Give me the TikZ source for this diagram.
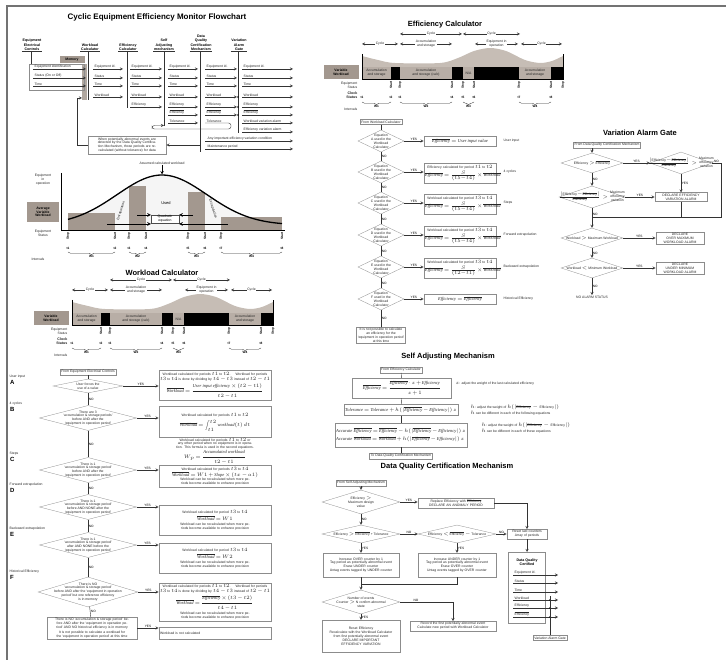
\documentclass[tikz,border=0pt]{standalone}
\usepackage{fontspec}
\usepackage{amsmath}
\setmainfont{Liberation Sans}
\newfontfamily\fmlfont{Liberation Serif}
\usetikzlibrary{shapes.geometric,decorations.pathreplacing,positioning}

\definecolor{barbrown}{RGB}{163,152,143}
\definecolor{wavegray}{RGB}{198,189,181}
\definecolor{blockgray}{RGB}{184,174,166}
\definecolor{linegray}{RGB}{140,140,140}
\newcommand{\barred}[1]{$\overline{\mbox{#1}}$}
\newcommand{\fv}[1]{\mbox{\fmlfont\itshape #1}}
\newcommand{\fml}[1]{{\fontsize{4.5}{5.3}\selectfont\mbox{$\thinmuskip=2mu\medmuskip=2mu\thickmuskip=3mu #1$}}}

\begin{document}
\begin{tikzpicture}[x=1pt, y=-1pt, >=stealth,
    heading/.style={font=\bfseries\fontsize{7.5}{8}\selectfont},
    hdr/.style={font=\bfseries\fontsize{3.6}{4.1}\selectfont, align=center, inner sep=0.6pt},
    tinytxt/.style={font=\fontsize{3.4}{3.9}\selectfont, align=center, inner sep=0.5pt, text=black!85},
    box/.style={tinytxt, draw=linegray, line width=0.3pt, inner sep=1.2pt},
    dia/.style={diamond, draw=linegray, line width=0.3pt, inner sep=0pt},
    yn/.style={font=\fontsize{3.2}{3.4}\selectfont, inner sep=0.6pt},
    wire/.style={line width=0.4pt, draw=black!80},
    ticklbl/.style={font=\bfseries\fontsize{3.2}{3.5}\selectfont, inner sep=0.4pt},
    rowletter/.style={font=\bfseries\fontsize{6}{6}\selectfont, inner sep=0pt},
    graybox/.style={fill=barbrown, font=\bfseries\fontsize{3.4}{3.8}\selectfont, align=center, inner sep=0.5pt}
  ]
  \useasboundingbox (0,0) rectangle (726,660);
  \draw[black!55, line width=1.6pt] (7,660) -- (7,6) -- (726,6);

  % monitor flowchart
  \node[heading, font=\bfseries\fontsize{8}{9}\selectfont] (monttl) at (157,17) {Cyclic Equipment Efficiency Monitor Flowchart};

  \node[hdr, anchor=south] (hEEC) at (32,51) {Equipment\\Electrical\\Controls};
  \node[hdr, anchor=south] (hWC) at (90,51) {Workload\\Calculator};
  \node[hdr, anchor=south] (hEC) at (128,51) {Efficiency\\Calculator};
  \node[hdr, anchor=south] (hSAM) at (164,51) {Self\\Adjusting\\mechanism};
  \node[hdr, anchor=south] (hDQC) at (201,51) {Data\\Quality\\Certification\\Mechanism};
  \node[hdr, anchor=south] (hVAG) at (239,51) {Variation\\Alarm\\Gate};
  \foreach \h in {hEEC,hWC,hEC,hSAM,hDQC,hVAG}
    \draw[wire] (\h.south west) -- (\h.south east);

  \draw[wire, line width=0.7pt] (31,51) -- (31,64);
  \draw[wire, line width=0.7pt] (88,51) -- (88,100);
  \draw[wire, line width=0.7pt] (127,51) -- (127,108);
  \draw[wire, line width=0.7pt] (164,51) -- (164,126);
  \draw[wire, line width=0.7pt] (200,51) -- (200,152);
  \draw[wire, line width=0.7pt] (238,51) -- (238,133);

  \node[graybox, minimum width=25pt, minimum height=7pt] (mem) at (72,60) {Memory};
  \fill[barbrown!85] (82,64) rectangle (87,100);

  \draw[linegray, line width=0.3pt] (29,64) rectangle (84,90);
  \foreach \y/\t [count=\i] in {69/Equipment identification, 78/Status (On or Off), 86/Time} {
    \draw[wire, ->] (33,\y) -- (86,\y);
    \node[tinytxt, anchor=south west] (eec\i) at (34,\y) {\t};
  }
  \foreach \xa/\xb/\n in {93/123/4, 130/162/5, 168/198/7, 205/237/6, 242/293/6} {
    \foreach \y/\t [count=\i] in {69/Equipment id., 78/Status, 86/Time, 97/Workload, 107/Efficiency, 115/\barred{Efficiency}, 123/Tolerance} {
      \ifnum\i>\n\relax\else
        \draw[wire, ->] (\xa,\y) -- (\xb,\y);
        \node[tinytxt, anchor=south west] at (\xa+1,\y) {\t};
      \fi
    }
  }
  \foreach \y/\t [count=\i] in {123/Workload variation alarm, 132/Efficiency variation alarm} {
    \draw[wire, ->] (242,\y) -- (293,\y);
    \node[tinytxt, anchor=south west] (vag\i) at (243,\y) {\t};
  }
  \foreach \y/\t [count=\i] in {141/Any important efficiency variation condition, 149/Maintenance period} {
    \draw[wire, ->] (205,\y) -- (293,\y);
    \node[tinytxt, anchor=south west] (dqx\i) at (207,\y) {\t};
  }
  \node[tinytxt, anchor=south west] (dqtol) at (206,123) {Tolerance};
  \draw[wire, ->, rounded corners=2.5pt] (205,123) -- (231,123) -- (231,129) -- (152,129) -- (152,125.5) -- (164,125.5);
  \foreach \y in {97,107,115} \fill (238,\y) circle (0.9pt);

  \node[box, text width=76pt, minimum height=18pt] (recalc) at (127,145) {When potentially abnormal events are detected by the Data Quality Certification Mechanism, those periods are recalculated (without tolerance) for data};
  \coordinate (dqcfb) at (200,145);
  \coordinate (memin) at (82,98);
  \draw[wire, ->] (dqcfb) -- (recalc);
  \draw[wire, ->] (recalc.west) -- (77,145) -- (77,98) -- (memin);

  % assumed workload graph
  \node[tinytxt] (assumed) at (162,163) {Assumed calculated workload};
  \fill[black!4] plot[domain=68:282, samples=60, smooth] (\x,{225-50*exp(-((\x-162)^2)/4050)}) -- (282,230) -- (68,230) -- cycle;
  \foreach \a/\b/\t in {68/115/213, 129/146/186, 188/205/192, 221/282/217}
    \fill[barbrown] (\a,\t) rectangle (\b,230);
  \draw[line width=1.3pt] plot[domain=68:282, samples=60, smooth] (\x,{225-50*exp(-((\x-162)^2)/4050)});
  \draw[line width=0.8pt] (61,173) -- (61,230) -- (285,230);
  \draw[->, line width=0.6pt] (assumed) -- (162,174.5);

  \node[tinytxt] (eqop) at (43,180) {Equipment\\in\\operation};
  \node[graybox, minimum width=32pt, minimum height=20pt] (avgwl) at (43,212) {Average\\Variable\\Workload};
  \node[tinytxt] (eqst) at (43,233) {Equipment\\Status};
  \node[font=\fontsize{4}{4.5}\selectfont] (used) at (166,203) {Used};
  \node[draw=black!70, line width=0.3pt, fill=white, font=\fontsize{3.4}{3.8}\selectfont, align=center, inner sep=0.8pt, minimum width=28pt] (quad) at (165,219) {Quadratic\\equation};
  \draw[->, line width=0.7pt] (137,215) -- (151,215);
  \draw[->, line width=0.7pt] (107,224) -- (151,224);
  \draw[->, line width=0.7pt] (193,215) -- (179,215);
  \draw[->, line width=0.7pt] (228,224) -- (179,224);
  \node[tinytxt, rotate=72] (extl) at (121,211) {Extrapolation};
  \node[tinytxt, rotate=-72] (extr) at (213,209) {Extrapolation};

  \foreach \x/\s [count=\i] in {68/Stop,115/Start,129/Stop,146/Start,188/Stop,205/Start,221/Stop,282/Start} {
    \node[ticklbl, rotate=90, anchor=east] (gs\i) at (\x,232) {\s};
    \node[ticklbl] (gt\i) at (\x,248) {t\i};
  }
  \node[tinytxt] (gint) at (38,259) {Intervals};
  \foreach \a/\b/\w in {68/115/1, 129/146/2, 188/205/3, 221/282/4}
    \draw[wire, decorate, decoration={brace, mirror, amplitude=2.5pt}] (\a,252) -- (\b,252) node[ticklbl, midway, below=2.5pt] {W\w};

  \node[heading] (wcttl) at (162,273) {Workload Calculator};
  \node[heading] (ecttl) at (445,25) {Efficiency Calculator};

  % same cycle timeline for both calculators
  \foreach \sx/\sy in {0/0, 290/-246} {
    \begin{scope}[shift={(\sx,\sy)}]
      \fill[wavegray] (72,313) -- plot[smooth] coordinates {(72,302) (88,306) (105,309) (150,309) (168,304) (184,297) (200,294) (216,297) (235,306) (250,309) (262,307) (273,302)} -- (273,313) -- cycle;
      \foreach \a/\b in {72/101, 110/162, 173/184, 229/261}
        \fill[blockgray] (\a,313) rectangle (\b,325);
      \foreach \a/\b in {101/110, 162/173, 184/229, 261/273}
        \fill[black] (\a,313) rectangle (\b,325);
      \draw[line width=0.8pt] (72,300) -- (72,325) -- (273,325) -- (273,300);
      \node[tinytxt] (acc1) at (86.5,319) {Accumulation\\and storage};
      \node[tinytxt] (acc2) at (136,319) {Accumulation\\and storage (calc)};
      \node[tinytxt] (acc3) at (178.5,319) {N/A};
      \node[tinytxt] (acc4) at (245,319) {Accumulation\\and storage};

      \draw[wire, <->] (110,280) -- (172,280) node[tinytxt, midway, fill=white] (cyc1) {Cycle};
      \draw[wire, <->] (173,280) -- (230,280) node[tinytxt, midway, fill=white] (cyc2) {Cycle};
      \draw[wire, <->] (72,290) -- (108,290) node[tinytxt, midway, fill=white] (cyc3) {Cycle};
      \draw[wire, <->] (110,290) -- (162,290) node[tinytxt, midway, fill=white] (cycacc) {Accumulation\\and storage};
      \draw[wire, <->] (185,290) -- (228,290) node[tinytxt, midway, fill=white] (cycop) {Equipment in\\operation};
      \draw[wire, <->] (231,290) -- (272,290) node[tinytxt, midway, fill=white] (cyc4) {Cycle};

      \node[graybox, minimum width=35pt, minimum height=14pt] (varwl) at (51,318) {Variable\\Workload};
      \node[tinytxt, anchor=east, align=right] (eqs) at (68,331) {Equipment\\Status};
      \node[tinytxt, anchor=east, align=right, font=\bfseries\fontsize{3.6}{3.8}\selectfont] (clk) at (68,341) {Clock\\Status};
      \node[tinytxt, anchor=east] (intv) at (68,355) {Intervals};
      \foreach \x/\s in {101/Start,110/Stop,162/Start,173/Stop,184/Start,229/Stop,261/Start,273/Stop}
        \node[ticklbl, rotate=90, anchor=east] at (\x,327) {\s};
      \foreach \x/\t in {72/1,101/2,110/3,162/4,173/5,184/6,229/7,261/8}
        \node[ticklbl] at (\x,343) {t\t};
      \foreach \a/\b/\w in {72/101/1, 110/162/2, 173/184/3, 229/261/4}
        \draw[wire, decorate, decoration={brace, mirror, amplitude=2.5pt}] (\a,348) -- (\b,348) node[ticklbl, midway, below=2.5pt] {W\w};
    \end{scope}
  }

  % workload calculator decisions
  \node[box] (wfrom) at (88,372) {From Equipment Electrical Controls};
  \node[dia, minimum width=70pt, minimum height=14pt] (wA) at (88,386) {};
  \node[tinytxt] (wAt) at (wA) {User forces the\\use of a value};
  \node[dia, minimum width=97pt, minimum height=25pt] (wB) at (88,418) {};
  \node[tinytxt] (wBt) at (wB) {There are 3\\`accumulation \& storage periods'\\before AND after the\\`equipment in operation period'};
  \node[dia, minimum width=97pt, minimum height=25pt] (wC) at (88,470) {};
  \node[tinytxt] (wCt) at (wC) {There is 1\\`accumulation \& storage period'\\before AND after the\\`equipment in operation period'};
  \node[dia, minimum width=97pt, minimum height=25pt] (wD) at (88,507) {};
  \node[tinytxt] (wDt) at (wD) {There is 1\\`accumulation \& storage period'\\before AND NONE after the\\`equipment in operation period'};
  \node[dia, minimum width=97pt, minimum height=25pt] (wE) at (88,545) {};
  \node[tinytxt] (wEt) at (wE) {There is 1\\`accumulation \& storage period'\\after AND NONE before the\\`equipment in operation period'};
  \node[dia, minimum width=100pt, minimum height=30pt] (wF) at (88,592) {};
  \node[tinytxt] (wFt) at (wF) {There is NO\\`accumulation \& storage period'\\before AND after the `equipment in operation\\period' but one reference efficiency\\is in memory};
  \node[box, text width=88pt] (wnot) at (92,628) {There is NO `accumulation \& storage period' before AND after the `equipment in operation period' AND NO historical efficiency is in memory\\[1pt]It is not possible to calculate a workload for the `equipment in operation period' at this time};

  \foreach \y/\l/\t [count=\i] in {379/A/User input, 406/B/4 cycles, 456/C/Steps, 487/D/Forward extrapolation, 531/E/Backward extrapolation, 574/F/Historical Efficiency} {
    \node[tinytxt, anchor=south west] (wcase\i) at (9,\y) {\t};
    \node[rowletter, anchor=north west] (wlet\i) at (10,\y+1) {\l};
  }

  \node[box, text width=110pt, minimum height=30pt] (bA) at (215,385) {Workload calculated for periods $t1$ to $t2$. \quad Workload for periods $t3$ to $t4$ is done by dividing by $t4-t3$ instead of $t2-t1$\\[1.5pt]\fml{\overline{\fv{Workload}}=\dfrac{\fv{User input efficiency}\times(t2-t1)}{t2-t1}}};
  \node[box, text width=110pt, minimum height=31pt] (bB) at (215,422) {Workload calculated for periods $t1$ to $t2$\\[2pt]\fml{\overline{\fv{Workload}}=\displaystyle\int_{t1}^{t2}\fv{workload}(t)\,dt}};
  \node[tinytxt, text width=110pt] (bBnote) at (215,451) {Workload calculated for periods $t1$ to $t2$ or any other period when no equipment is in operation. This formula is used in the second equations.\\\fml{W_p=\dfrac{\fv{Accumulated workload}}{t2-t1}}};
  \node[box, text width=110pt, minimum height=22pt] (bC) at (215,476) {Workload calculated for periods $t3$ to $t4$\\\fml{\overline{\fv{Workload}}=W1+\fv{Slope}\times(tx-a1)}\\Workload can be recalculated when more periods become available to enhance precision};
  \node[box, text width=110pt, minimum height=30pt] (bD) at (215,520) {Workload calculated for period $t3$ to $t4$\\[1pt]\fml{\overline{\fv{Workload}}=W1}\\[1pt]Workload can be recalculated when more periods become available to enhance precision};
  \node[box, text width=110pt, minimum height=30pt] (bE) at (215,558) {Workload calculated for period $t3$ to $t4$\\[1pt]\fml{\overline{\fv{Workload}}=W2}\\[1pt]Workload can be recalculated when more periods become available to enhance precision};
  \node[box, text width=110pt, minimum height=38pt] (bF) at (215,602) {Workload calculated for periods $t1$ to $t2$. \quad Workload for periods $t3$ to $t4$ is done by dividing by $t4-t3$ instead of $t2-t1$\\[1pt]\fml{\overline{\fv{Workload}}=\dfrac{\overline{\fv{Efficiency}}\times(t3-t2)}{t4-t1}}\\[1pt]Workload can be recalculated when more periods become available to enhance precision};
  \node[box, text width=110pt, align=left, minimum height=12pt] (bNone) at (215,633) {Workload is not calculated};

  \draw[wire] (wfrom) -- (wA);
  \draw[wire] (wA) -- (wB) node[yn, midway, right] {NO};
  \draw[wire] (wB) -- (wC) node[yn, midway, right] {NO};
  \draw[wire] (wC) -- (wD) node[yn, midway, right] {NO};
  \draw[wire] (wD) -- (wE) node[yn, midway, right] {NO};
  \draw[wire] (wE) -- (wF) node[yn, midway, right] {NO};
  \draw[wire] (wF) -- (wnot) node[yn, midway, right] {NO};
  \foreach \q in {A,B,C,D,E,F}
    \draw[wire, ->] (w\q) -- (w\q -| b\q.west) node[yn, midway, above] {YES};
  \draw[wire, ->] (wnot) -- (wnot -| bNone.west) node[yn, midway, above] {YES};

  % efficiency calculator decisions
  \node[box] (efrom) at (381,122) {From Workload Calculator};
  \foreach \q/\y/\lbl in {A/141/User input, B/172/4 cycles, C/203/Steps, D/235/Forward extrapolation, E/267/Backward extrapolation, F/299/Historical Efficiency} {
    \node[dia, minimum width=46pt, minimum height=22pt] (e\q) at (381,\y) {};
    \node[tinytxt] (e\q t) at (e\q) {Equation\\\q{} used in the\\Workload\\Calculator};
    \node[tinytxt, anchor=west] (el\q) at (503,\y) {\lbl};
  }
  \node[box, text width=70pt, minimum height=10pt] (ebA) at (460,141) {\fml{\overline{\fv{Efficiency}}=\fv{User input value}}};
  \node[box, text width=70pt, minimum height=20pt] (ebB) at (460,173) {Efficiency calculated for period $t1$ to $t2$\\[1pt]\fml{\overline{\fv{Efficiency}}=\frac{S}{(t5-t4)}\times\overline{\fv{Workload}}}};
  \node[box, text width=70pt, minimum height=20pt] (ebC) at (460,204) {Workload calculated for period $t3$ to $t4$\\[1pt]\fml{\overline{\fv{Efficiency}}=\frac{S}{(t5-t4)}\times\overline{\fv{Workload}}}};
  \node[box, text width=70pt, minimum height=20pt] (ebD) at (460,236) {Workload calculated for period $t3$ to $t4$\\[1pt]\fml{\overline{\fv{Efficiency}}=\frac{S}{(t5-t4)}\times\overline{\fv{Workload}}}};
  \node[box, text width=70pt, minimum height=20pt] (ebE) at (460,268) {Workload calculated for period $t3$ to $t4$\\[1pt]\fml{\overline{\fv{Efficiency}}=\frac{S}{(t2-t1)}\times\overline{\fv{Workload}}}};
  \node[box, text width=70pt, minimum height=10pt] (ebF) at (460,299) {\fml{\fv{Efficiency}=\overline{\fv{Efficiency}}}};
  \node[box] (enot) at (381,335) {It is not possible to calculate\\an efficiency for the\\`equipment in operation period'\\at this time};

  \draw[wire] (efrom) -- (eA);
  \foreach \a/\b in {A/B, B/C, C/D, D/E, E/F}
    \draw[wire] (e\a) -- (e\b) node[yn, midway, right] {NO};
  \draw[wire] (eF) -- (enot) node[yn, midway, right] {NO};
  \foreach \q in {A,B,C,D,E,F}
    \draw[wire, ->] (e\q) -- (e\q -| eb\q.west) node[yn, midway, above] {YES};

  % variation alarm gate
  \node[heading] (vagttl) at (640,133) {Variation Alarm Gate};
  \node[box] (vfrom) at (607,145) {From Data Quality Certification Mechanism};
  \node[dia, minimum width=62pt, minimum height=20pt] (v1) at (592,163) {};
  \node[tinytxt] (v1t) at (v1) {Efficiency $>$ \barred{Efficiency}};
  \node[dia, minimum width=62pt, minimum height=22pt] (v2) at (681,163) {};
  \node[tinytxt] (v2t) at (v2) {$\frac{|\mbox{Efficiency}-\overline{\mbox{Efficiency}}|}{\overline{\mbox{Efficiency}}}>\begin{array}{@{}c@{}}\mbox{Maximum}\\\mbox{efficiency}\\\mbox{variation}\end{array}$};
  \node[box, text width=50pt] (valarm) at (681,197) {DECLARE EFFICIENCY\\VARIATION ALARM};
  \node[dia, minimum width=66pt, minimum height=22pt] (v3) at (592,197) {};
  \node[tinytxt] (v3t) at (v3) {$\frac{|\mbox{Efficiency}-\overline{\mbox{Efficiency}}|}{\overline{\mbox{Efficiency}}}>\begin{array}{@{}c@{}}\mbox{Maximum}\\\mbox{efficiency}\\\mbox{variation}\end{array}$};
  \coordinate (vjoin) at (592,217);
  \coordinate (vright) at (721,163);
  \coordinate (vrightlow) at (721,217);
  \node[dia, minimum width=62pt, minimum height=20pt] (v4) at (592,238) {};
  \node[tinytxt] (v4t) at (v4) {Workload $>$ Maximum Workload};
  \node[box, text width=46pt] (vover) at (680,238) {DECLARE\\OVER MAXIMUM\\WORKLOAD ALARM};
  \node[dia, minimum width=62pt, minimum height=20pt] (v5) at (592,268) {};
  \node[tinytxt] (v5t) at (v5) {Workload $<$ Minimum Workload};
  \node[box, text width=46pt] (vunder) at (680,268) {DECLARE\\UNDER MINIMUM\\WORKLOAD ALARM};
  \node[tinytxt] (vnone) at (592,297) {NO ALARM STATUS};

  \draw[wire, ->] (vfrom.south -| v1) -- (v1);
  \draw[wire, ->] (v1) -- (v2) node[yn, midway, above] {YES};
  \draw[wire] (v2) -- (vright) node[yn, midway, above] {NO} -- (vrightlow) -- (vjoin);
  \draw[wire, ->] (v2) -- (valarm) node[yn, midway, right] {YES};
  \draw[wire, ->] (v1) -- (v3) node[yn, midway, right] {NO};
  \draw[wire, ->] (v3) -- (v3 -| valarm.west) node[yn, midway, above] {YES};
  \draw[wire] (valarm) -- (valarm |- vjoin);
  \draw[wire, ->] (v3) -- (v4) node[yn, pos=0.3, right] {NO};
  \draw[wire, ->] (v4) -- (v4 -| vover.west) node[yn, midway, above] {YES};
  \draw[wire, ->] (v4) -- (v5) node[yn, midway, right] {NO};
  \draw[wire, ->] (v5) -- (v5 -| vunder.west) node[yn, midway, above] {YES};
  \draw[wire, ->] (v5) -- (vnone) node[yn, midway, right] {NO};

  % self adjusting mechanism
  \node[heading] (sattl) at (448,357) {Self Adjusting Mechanism};
  \node[box] (sfrom) at (401,370) {From Efficiency Calculator};
  \node[box, minimum width=99pt, minimum height=20pt] (s1) at (402,388) {\fml{\overline{\fv{Efficiency}}=\dfrac{\overline{\fv{Efficiency}}\cdot z+\fv{Efficiency}}{z+1}}};
  \node[tinytxt, anchor=west] (s1c) at (455,384) {$z$: adjust the weight of the last calculated efficiency};
  \node[box, minimum height=11pt] (s2) at (401,410) {\fml{\fv{Tolerance}=\fv{Tolerance}+h(|\overline{\fv{Efficiency}}-\fv{Efficiency}|)\,z}};
  \node[tinytxt, anchor=west, align=left] (s2c) at (470,410) {$h$: adjust the weight of $h(|\overline{\mbox{Efficiency}}-\mbox{Efficiency}|)$\\$h$ can be different in each of the following equations};
  \node[box, align=left, minimum height=24pt] (s3) at (401,435) {\fml{\fv{Accurate}\ \overline{\fv{Efficiency}}=\overline{\fv{Efficiency}}-h(|\overline{\fv{Efficiency}}-\fv{Efficiency}|)\,z}\\[2pt]\fml{\fv{Accurate}\ \overline{\fv{Workload}}=\overline{\fv{Workload}}+h(|\overline{\fv{Efficiency}}-\fv{Efficiency}|)\,z}};
  \node[tinytxt, anchor=west, align=left] (s3c) at (481,428) {$h$: adjust the weight of $h(|\overline{\mbox{Efficiency}}-\mbox{Efficiency}|)$\\$h$ can be different in each of these equations};
  \node[box] (sto) at (401,456) {To Data Quality Certification Mechanism};
  \draw[wire] (sfrom) -- (s1);
  \draw[wire] (s1) -- (s2);
  \draw[wire] (s2) -- (s3);
  \draw[wire] (s3) -- (sto);

  % data quality certification mechanism
  \node[heading] (dqttl) at (447,467) {Data Quality Certification Mechanism};
  \node[box] (dfrom) at (361,483) {From Self Adjusting Mechanism};
  \node[dia, minimum width=78pt, minimum height=24pt] (d1) at (361,502) {};
  \node[tinytxt] (d1t) at (d1) {Efficiency $>$\\Maximum design\\value};
  \node[box, text width=74pt] (drep) at (456,503) {Replace Efficiency with \barred{Efficiency}\\DECLARE AN ANOMALY PERIOD};
  \node[box, text width=38pt] (dreset) at (527,534) {Reset last counters\\Array of periods};
  \node[dia, minimum width=78pt, minimum height=18pt] (d2) at (361,534) {};
  \node[tinytxt] (d2t) at (d2) {Efficiency $>$ \barred{Efficiency} + Tolerance};
  \node[dia, minimum width=78pt, minimum height=18pt] (d3) at (457,534) {};
  \node[tinytxt] (d3t) at (d3) {Efficiency $<$ \barred{Efficiency} $-$ Tolerance};
  \node[box, text width=74pt, minimum height=24pt] (dover) at (361,565) {Increase OVER counter by 1\\Tag period as potentially abnormal event\\Erase UNDER counter\\Untag events tagged by UNDER counter};
  \node[box, text width=76pt, minimum height=24pt] (dunder) at (457,565) {Increase UNDER counter by 1\\Tag period as potentially abnormal event\\Erase OVER counter\\Untag events tagged by OVER counter};
  \coordinate (dmerge) at (361,584);
  \node[dia, minimum width=78pt, minimum height=24pt] (d4) at (361,602) {};
  \node[tinytxt] (d4t) at (d4) {Number of events\\Counter $>$ N confirm abnormal\\state};
  \node[box, text width=84pt] (drec) at (453,626) {Record the first potentially abnormal event\\Calculate new period with Workload Calculator};
  \node[box, text width=76pt, minimum height=32pt] (dimp) at (361,636) {Reset Efficiency\\Recalculate with the Workload Calculator\\from first potentially abnormal event\\DECLARE IMPORTANT\\EFFICIENCY VARIATION};

  \node[draw=linegray, line width=0.3pt, minimum width=37pt, minimum height=71pt, anchor=north] (dcert) at (527,552) {};
  \node[hdr] (dcertttl) at (527,562) {Data Quality\\Certified};
  \foreach \y/\t [count=\i] in {575/Equipment id., 583/Status, 592/Time, 600/Workload, 608/Efficiency, 617/\barred{Efficiency}} {
    \draw[wire, ->] (513,\y) -- (558,\y);
    \node[tinytxt, anchor=south west] (dq\i) at (514,\y) {\t};
  }
  \foreach \y in {600,608,617} \fill (550,\y) circle (0.9pt);
  \node[box] (vagout) at (550,638) {Variation Alarm Gate};
  \draw[wire] (550,596) -- (vagout);

  \draw[wire, ->] (dfrom) -- (d1);
  \draw[wire, ->] (d1) -- (d1 -| drep.west) node[yn, midway, above] {YES};
  \draw[wire, ->] (drep) -- (drep -| dreset) -- (dreset);
  \draw[wire, ->] (d1) -- (d2) node[yn, midway, right] {NO};
  \draw[wire, ->] (d2) -- (d3) node[yn, midway, above] {NO};
  \draw[wire, ->] (d3) -- (dreset) node[yn, midway, above] {NO};
  \draw[wire, ->] (d2) -- (dover) node[yn, midway, right] {YES};
  \draw[wire, ->] (d3) -- (dunder) node[yn, midway, right] {YES};
  \draw[wire] (dunder.south) -- (dunder.south |- dmerge) -- (dmerge);
  \draw[wire, ->] (dover) -- (d4);
  \draw[wire, ->] (d4) -- (d4 -| drec) node[yn, pos=0.3, above] {NO} -- (drec);
  \draw[wire, ->] (d4) -- (dimp) node[yn, midway, right] {YES};
  \draw[wire, ->] (dreset) -- (dcert);
\end{tikzpicture}
\end{document}
